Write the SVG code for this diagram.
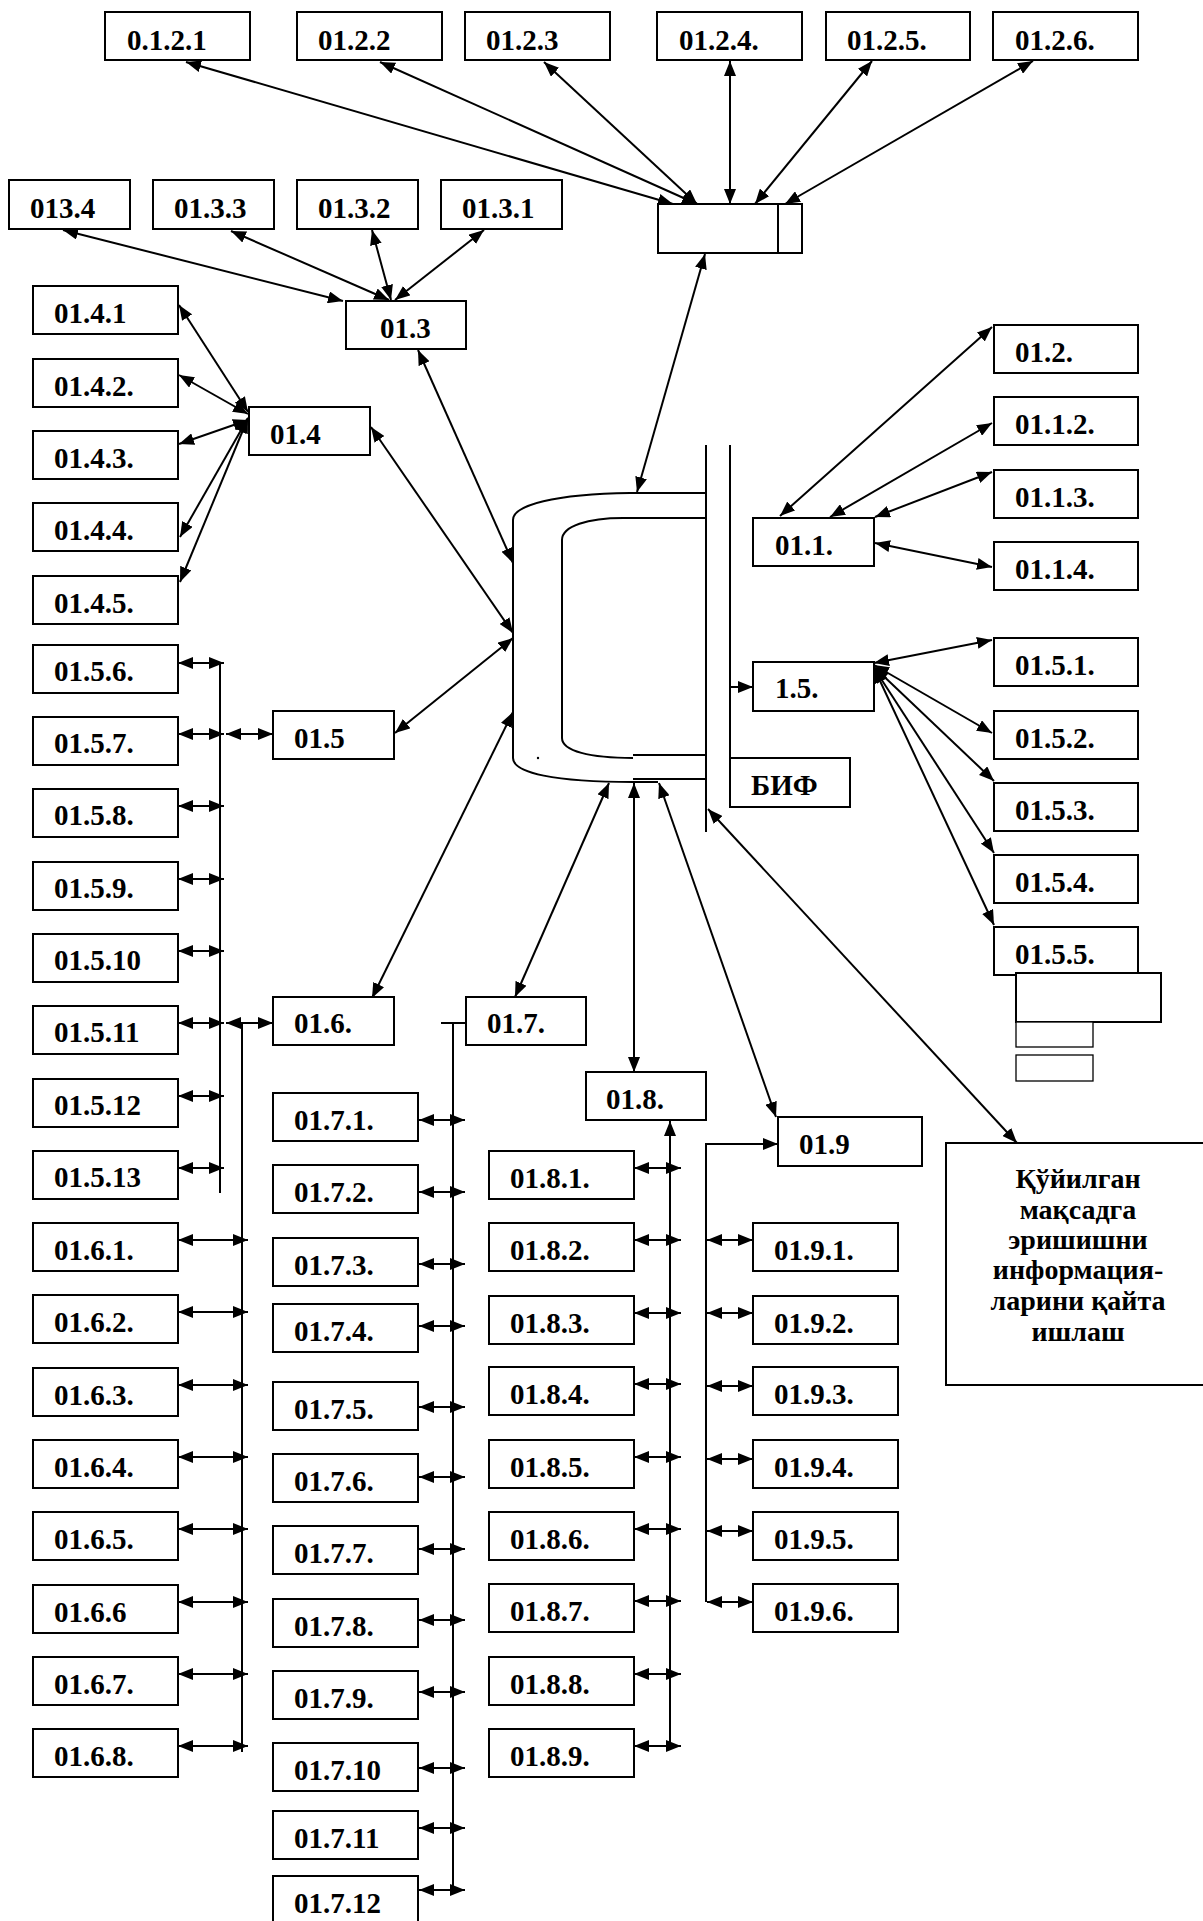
<svg xmlns="http://www.w3.org/2000/svg" width="1203" height="1921" viewBox="0 0 1203 1921">
<defs>
<marker id="ah" markerUnits="userSpaceOnUse" markerWidth="15" markerHeight="12" refX="15" refY="6" orient="auto-start-reverse"><path d="M0,0 L15,6 L0,12 z" fill="#000"/></marker>
<style>
.b{fill:#fff;stroke:#000;stroke-width:2}
.bt{fill:#fff;stroke:#000;stroke-width:1.3}
.t{font-family:"Liberation Serif","Times New Roman",serif;font-weight:bold;font-size:29px;fill:#000}
.q{font-family:"Liberation Serif","Times New Roman",serif;font-weight:bold;font-size:28px;fill:#000;text-anchor:middle}
.n{stroke:#000;stroke-width:2;fill:none}
.d{stroke:#000;stroke-width:2;fill:none;marker-start:url(#ah);marker-end:url(#ah)}
.s{stroke:#000;stroke-width:2;fill:none;marker-end:url(#ah)}
</style>
</defs>
<rect width="1203" height="1921" fill="#fff"/>

<g id="connectors">
<line class="d" x1="186" y1="62" x2="673" y2="204"/>
<line class="d" x1="380" y1="62" x2="697" y2="204"/>
<line class="d" x1="544" y1="62" x2="697" y2="204"/>
<line class="d" x1="730" y1="61" x2="730" y2="204"/>
<line class="d" x1="872" y1="61" x2="755" y2="204"/>
<line class="d" x1="1033" y1="61" x2="785" y2="204"/>
<line class="d" x1="705" y1="254" x2="637" y2="492"/>
<line class="d" x1="63" y1="230" x2="343" y2="301"/>
<line class="d" x1="231" y1="231" x2="389" y2="300"/>
<line class="d" x1="372" y1="230" x2="391" y2="300"/>
<line class="d" x1="484" y1="230" x2="395" y2="300"/>
<line class="d" x1="418" y1="350" x2="513" y2="563"/>
<line class="d" x1="179" y1="305" x2="248" y2="412"/>
<line class="d" x1="179" y1="375" x2="248" y2="414"/>
<line class="d" x1="179" y1="444" x2="248" y2="420"/>
<line class="d" x1="180" y1="537" x2="248" y2="418"/>
<line class="d" x1="180" y1="582" x2="248" y2="418"/>
<line class="d" x1="371" y1="427" x2="513" y2="633"/>
<line class="d" x1="395" y1="733" x2="513" y2="638"/>
<line class="d" x1="372" y1="998" x2="513" y2="712"/>
<line class="d" x1="515" y1="997" x2="609" y2="783"/>
<line class="d" x1="634" y1="783" x2="634" y2="1072"/>
<line class="d" x1="659" y1="783" x2="776" y2="1117"/>
<line class="d" x1="708" y1="809" x2="1017" y2="1143"/>
<line class="s" x1="730" y1="687" x2="753" y2="687"/>
<line class="d" x1="992" y1="327" x2="780" y2="516"/>
<line class="d" x1="992" y1="423" x2="830" y2="517"/>
<line class="d" x1="992" y1="472" x2="875" y2="517"/>
<line class="d" x1="875" y1="543" x2="992" y2="567"/>
<line class="d" x1="874" y1="663" x2="992" y2="640"/>
<line class="d" x1="874" y1="665" x2="992" y2="733"/>
<line class="d" x1="874" y1="667" x2="994" y2="781"/>
<line class="d" x1="874" y1="668" x2="994" y2="853"/>
<line class="d" x1="874" y1="668" x2="994" y2="925"/>
<line class="n" x1="220" y1="663" x2="220" y2="1193"/>
<line class="d" x1="178" y1="663" x2="224" y2="663"/>
<line class="d" x1="178" y1="734" x2="224" y2="734"/>
<line class="d" x1="178" y1="806" x2="224" y2="806"/>
<line class="d" x1="178" y1="879" x2="224" y2="879"/>
<line class="d" x1="178" y1="951" x2="224" y2="951"/>
<line class="d" x1="178" y1="1023" x2="224" y2="1023"/>
<line class="d" x1="178" y1="1096" x2="224" y2="1096"/>
<line class="d" x1="178" y1="1168" x2="224" y2="1168"/>
<line class="d" x1="226" y1="734" x2="273" y2="734"/>
<line class="n" x1="242" y1="1023" x2="242" y2="1752"/>
<line class="d" x1="226" y1="1023" x2="273" y2="1023"/>
<line class="d" x1="178" y1="1240" x2="248" y2="1240"/>
<line class="d" x1="178" y1="1312" x2="248" y2="1312"/>
<line class="d" x1="178" y1="1385" x2="248" y2="1385"/>
<line class="d" x1="178" y1="1457" x2="248" y2="1457"/>
<line class="d" x1="178" y1="1529" x2="248" y2="1529"/>
<line class="d" x1="178" y1="1602" x2="248" y2="1602"/>
<line class="d" x1="178" y1="1674" x2="248" y2="1674"/>
<line class="d" x1="178" y1="1746" x2="248" y2="1746"/>
<line class="n" x1="441" y1="1023" x2="466" y2="1023"/>
<line class="n" x1="453" y1="1023" x2="453" y2="1890"/>
<line class="d" x1="419" y1="1120" x2="465" y2="1120"/>
<line class="d" x1="419" y1="1192" x2="465" y2="1192"/>
<line class="d" x1="419" y1="1264" x2="465" y2="1264"/>
<line class="d" x1="419" y1="1326" x2="465" y2="1326"/>
<line class="d" x1="419" y1="1407" x2="465" y2="1407"/>
<line class="d" x1="419" y1="1477" x2="465" y2="1477"/>
<line class="d" x1="419" y1="1549" x2="465" y2="1549"/>
<line class="d" x1="419" y1="1620" x2="465" y2="1620"/>
<line class="d" x1="419" y1="1692" x2="465" y2="1692"/>
<line class="d" x1="419" y1="1768" x2="465" y2="1768"/>
<line class="d" x1="419" y1="1828" x2="465" y2="1828"/>
<line class="d" x1="419" y1="1890" x2="465" y2="1890"/>
<line class="s" x1="670" y1="1746" x2="670" y2="1121"/>
<line class="d" x1="634" y1="1168" x2="681" y2="1168"/>
<line class="d" x1="634" y1="1240" x2="681" y2="1240"/>
<line class="d" x1="634" y1="1313" x2="681" y2="1313"/>
<line class="d" x1="634" y1="1384" x2="681" y2="1384"/>
<line class="d" x1="634" y1="1457" x2="681" y2="1457"/>
<line class="d" x1="634" y1="1529" x2="681" y2="1529"/>
<line class="d" x1="634" y1="1601" x2="681" y2="1601"/>
<line class="d" x1="634" y1="1674" x2="681" y2="1674"/>
<line class="d" x1="634" y1="1746" x2="681" y2="1746"/>
<line class="n" x1="706" y1="1144" x2="706" y2="1602"/>
<line class="s" x1="705" y1="1144" x2="778" y2="1144"/>
<line class="d" x1="707" y1="1240" x2="753" y2="1240"/>
<line class="d" x1="707" y1="1313" x2="753" y2="1313"/>
<line class="d" x1="707" y1="1386" x2="753" y2="1386"/>
<line class="d" x1="707" y1="1459" x2="753" y2="1459"/>
<line class="d" x1="707" y1="1531" x2="753" y2="1531"/>
<line class="d" x1="707" y1="1602" x2="753" y2="1602"/>
</g>

<g id="center">
<path class="n" d="M706,493 L630,493 C555,494 513,505 513,520 L513,758 C513,773 555,782 633,782 L658,782"/>
<path class="n" d="M633,779 L706,779"/>
<path class="n" d="M706,518 L623,518 C588,518 562,526 562,540 L562,738 C562,751 590,758 633,758"/>
<path class="n" d="M633,755 L706,755"/>
<circle cx="538" cy="758" r="1.2" fill="#000"/>
<line class="n" x1="706" y1="445" x2="706" y2="832"/>
<line class="n" x1="730" y1="445" x2="730" y2="807"/>
</g>

<g id="hub"><rect class="b" x="658" y="204" width="144" height="49"/><line class="n" x1="778" y1="204" x2="778" y2="253"/></g>

<g id="n_0_1_2_1"><rect class="b" x="105" y="12" width="145" height="48"/><text class="t" x="127" y="50">0.1.2.1</text></g>
<g id="n_01_2_2"><rect class="b" x="297" y="12" width="145" height="48"/><text class="t" x="318" y="50">01.2.2</text></g>
<g id="n_01_2_3"><rect class="b" x="465" y="12" width="145" height="48"/><text class="t" x="486" y="50">01.2.3</text></g>
<g id="n_01_2_4"><rect class="b" x="657" y="12" width="145" height="48"/><text class="t" x="679" y="50">01.2.4.</text></g>
<g id="n_01_2_5"><rect class="b" x="826" y="12" width="144" height="48"/><text class="t" x="847" y="50">01.2.5.</text></g>
<g id="n_01_2_6"><rect class="b" x="993" y="12" width="145" height="48"/><text class="t" x="1015" y="50">01.2.6.</text></g>

<g id="n_013_4"><rect class="b" x="9" y="180" width="121" height="49"/><text class="t" x="30" y="218">013.4</text></g>
<g id="n_01_3_3"><rect class="b" x="153" y="180" width="121" height="49"/><text class="t" x="174" y="218">01.3.3</text></g>
<g id="n_01_3_2"><rect class="b" x="297" y="180" width="121" height="49"/><text class="t" x="318" y="218">01.3.2</text></g>
<g id="n_01_3_1"><rect class="b" x="441" y="180" width="121" height="49"/><text class="t" x="462" y="218">01.3.1</text></g>
<g id="n_01_3"><rect class="b" x="346" y="301" width="120" height="48"/><text class="t" x="380" y="338">01.3</text></g>

<g id="n_01_4_1"><rect class="b" x="33" y="286" width="145" height="48"/><text class="t" x="54" y="323">01.4.1</text></g>
<g id="n_01_4_2"><rect class="b" x="33" y="359" width="145" height="48"/><text class="t" x="54" y="396">01.4.2.</text></g>
<g id="n_01_4_3"><rect class="b" x="33" y="431" width="145" height="48"/><text class="t" x="54" y="468">01.4.3.</text></g>
<g id="n_01_4_4"><rect class="b" x="33" y="503" width="145" height="48"/><text class="t" x="54" y="540">01.4.4.</text></g>
<g id="n_01_4_5"><rect class="b" x="33" y="576" width="145" height="48"/><text class="t" x="54" y="613">01.4.5.</text></g>
<g id="n_01_4"><rect class="b" x="249" y="407" width="121" height="48"/><text class="t" x="270" y="444">01.4</text></g>

<g id="n_01_5_6"><rect class="b" x="33" y="645" width="145" height="48"/><text class="t" x="54" y="681">01.5.6.</text></g>
<g id="n_01_5_7"><rect class="b" x="33" y="717" width="145" height="48"/><text class="t" x="54" y="753">01.5.7.</text></g>
<g id="n_01_5_8"><rect class="b" x="33" y="789" width="145" height="48"/><text class="t" x="54" y="825">01.5.8.</text></g>
<g id="n_01_5_9"><rect class="b" x="33" y="862" width="145" height="48"/><text class="t" x="54" y="898">01.5.9.</text></g>
<g id="n_01_5_10"><rect class="b" x="33" y="934" width="145" height="48"/><text class="t" x="54" y="970">01.5.10</text></g>
<g id="n_01_5_11"><rect class="b" x="33" y="1006" width="145" height="48"/><text class="t" x="54" y="1042">01.5.11</text></g>
<g id="n_01_5_12"><rect class="b" x="33" y="1079" width="145" height="48"/><text class="t" x="54" y="1115">01.5.12</text></g>
<g id="n_01_5_13"><rect class="b" x="33" y="1151" width="145" height="48"/><text class="t" x="54" y="1187">01.5.13</text></g>
<g id="n_01_5"><rect class="b" x="273" y="711" width="121" height="48"/><text class="t" x="294" y="748">01.5</text></g>
<g id="n_01_6"><rect class="b" x="273" y="997" width="121" height="48"/><text class="t" x="294" y="1033">01.6.</text></g>

<g id="n_01_6_1"><rect class="b" x="33" y="1223" width="145" height="48"/><text class="t" x="54" y="1260">01.6.1.</text></g>
<g id="n_01_6_2"><rect class="b" x="33" y="1295" width="145" height="48"/><text class="t" x="54" y="1332">01.6.2.</text></g>
<g id="n_01_6_3"><rect class="b" x="33" y="1368" width="145" height="48"/><text class="t" x="54" y="1405">01.6.3.</text></g>
<g id="n_01_6_4"><rect class="b" x="33" y="1440" width="145" height="48"/><text class="t" x="54" y="1477">01.6.4.</text></g>
<g id="n_01_6_5"><rect class="b" x="33" y="1512" width="145" height="48"/><text class="t" x="54" y="1549">01.6.5.</text></g>
<g id="n_01_6_6"><rect class="b" x="33" y="1585" width="145" height="48"/><text class="t" x="54" y="1622">01.6.6</text></g>
<g id="n_01_6_7"><rect class="b" x="33" y="1657" width="145" height="48"/><text class="t" x="54" y="1694">01.6.7.</text></g>
<g id="n_01_6_8"><rect class="b" x="33" y="1729" width="145" height="48"/><text class="t" x="54" y="1766">01.6.8.</text></g>

<g id="n_01_7"><rect class="b" x="466" y="997" width="120" height="48"/><text class="t" x="487" y="1033">01.7.</text></g>
<g id="n_01_7_1"><rect class="b" x="273" y="1093" width="145" height="48"/><text class="t" x="294" y="1130">01.7.1.</text></g>
<g id="n_01_7_2"><rect class="b" x="273" y="1165" width="145" height="48"/><text class="t" x="294" y="1202">01.7.2.</text></g>
<g id="n_01_7_3"><rect class="b" x="273" y="1238" width="145" height="48"/><text class="t" x="294" y="1275">01.7.3.</text></g>
<g id="n_01_7_4"><rect class="b" x="273" y="1304" width="145" height="48"/><text class="t" x="294" y="1341">01.7.4.</text></g>
<g id="n_01_7_5"><rect class="b" x="273" y="1382" width="145" height="48"/><text class="t" x="294" y="1419">01.7.5.</text></g>
<g id="n_01_7_6"><rect class="b" x="273" y="1454" width="145" height="48"/><text class="t" x="294" y="1491">01.7.6.</text></g>
<g id="n_01_7_7"><rect class="b" x="273" y="1526" width="145" height="48"/><text class="t" x="294" y="1563">01.7.7.</text></g>
<g id="n_01_7_8"><rect class="b" x="273" y="1599" width="145" height="48"/><text class="t" x="294" y="1636">01.7.8.</text></g>
<g id="n_01_7_9"><rect class="b" x="273" y="1671" width="145" height="48"/><text class="t" x="294" y="1708">01.7.9.</text></g>
<g id="n_01_7_10"><rect class="b" x="273" y="1743" width="145" height="48"/><text class="t" x="294" y="1780">01.7.10</text></g>
<g id="n_01_7_11"><rect class="b" x="273" y="1811" width="145" height="48"/><text class="t" x="294" y="1848">01.7.11</text></g>
<g id="n_01_7_12"><rect class="b" x="273" y="1876" width="145" height="48"/><text class="t" x="294" y="1913">01.7.12</text></g>

<g id="n_01_8"><rect class="b" x="586" y="1072" width="120" height="48"/><text class="t" x="606" y="1109">01.8.</text></g>
<g id="n_01_8_1"><rect class="b" x="489" y="1151" width="145" height="48"/><text class="t" x="510" y="1188">01.8.1.</text></g>
<g id="n_01_8_2"><rect class="b" x="489" y="1223" width="145" height="48"/><text class="t" x="510" y="1260">01.8.2.</text></g>
<g id="n_01_8_3"><rect class="b" x="489" y="1296" width="145" height="48"/><text class="t" x="510" y="1333">01.8.3.</text></g>
<g id="n_01_8_4"><rect class="b" x="489" y="1367" width="145" height="48"/><text class="t" x="510" y="1404">01.8.4.</text></g>
<g id="n_01_8_5"><rect class="b" x="489" y="1440" width="145" height="48"/><text class="t" x="510" y="1477">01.8.5.</text></g>
<g id="n_01_8_6"><rect class="b" x="489" y="1512" width="145" height="48"/><text class="t" x="510" y="1549">01.8.6.</text></g>
<g id="n_01_8_7"><rect class="b" x="489" y="1584" width="145" height="48"/><text class="t" x="510" y="1621">01.8.7.</text></g>
<g id="n_01_8_8"><rect class="b" x="489" y="1657" width="145" height="48"/><text class="t" x="510" y="1694">01.8.8.</text></g>
<g id="n_01_8_9"><rect class="b" x="489" y="1729" width="145" height="48"/><text class="t" x="510" y="1766">01.8.9.</text></g>

<g id="n_01_9"><rect class="b" x="778" y="1117" width="144" height="49"/><text class="t" x="799" y="1154">01.9</text></g>
<g id="n_01_9_1"><rect class="b" x="753" y="1223" width="145" height="48"/><text class="t" x="774" y="1260">01.9.1.</text></g>
<g id="n_01_9_2"><rect class="b" x="753" y="1296" width="145" height="48"/><text class="t" x="774" y="1333">01.9.2.</text></g>
<g id="n_01_9_3"><rect class="b" x="753" y="1367" width="145" height="48"/><text class="t" x="774" y="1404">01.9.3.</text></g>
<g id="n_01_9_4"><rect class="b" x="753" y="1440" width="145" height="48"/><text class="t" x="774" y="1477">01.9.4.</text></g>
<g id="n_01_9_5"><rect class="b" x="753" y="1512" width="145" height="48"/><text class="t" x="774" y="1549">01.9.5.</text></g>
<g id="n_01_9_6"><rect class="b" x="753" y="1584" width="145" height="48"/><text class="t" x="774" y="1621">01.9.6.</text></g>

<g id="n_01_2"><rect class="b" x="994" y="325" width="144" height="48"/><text class="t" x="1015" y="362">01.2.</text></g>
<g id="n_01_1_2"><rect class="b" x="994" y="397" width="144" height="48"/><text class="t" x="1015" y="434">01.1.2.</text></g>
<g id="n_01_1_3"><rect class="b" x="994" y="470" width="144" height="48"/><text class="t" x="1015" y="507">01.1.3.</text></g>
<g id="n_01_1_4"><rect class="b" x="994" y="542" width="144" height="48"/><text class="t" x="1015" y="579">01.1.4.</text></g>
<g id="n_01_1"><rect class="b" x="753" y="518" width="121" height="48"/><text class="t" x="775" y="555">01.1.</text></g>
<g id="n_1_5"><rect class="b" x="753" y="662" width="121" height="49"/><text class="t" x="775" y="698">1.5.</text></g>
<g id="n_BIF"><rect class="b" x="730" y="758" width="120" height="49"/><text class="t" x="751" y="795">БИФ</text></g>
<g id="n_01_5_1"><rect class="b" x="994" y="638" width="144" height="48"/><text class="t" x="1015" y="675">01.5.1.</text></g>
<g id="n_01_5_2"><rect class="b" x="994" y="711" width="144" height="48"/><text class="t" x="1015" y="748">01.5.2.</text></g>
<g id="n_01_5_3"><rect class="b" x="994" y="783" width="144" height="48"/><text class="t" x="1015" y="820">01.5.3.</text></g>
<g id="n_01_5_4"><rect class="b" x="994" y="855" width="144" height="48"/><text class="t" x="1015" y="892">01.5.4.</text></g>
<g id="n_01_5_5"><rect class="b" x="994" y="927" width="144" height="48"/><text class="t" x="1015" y="964">01.5.5.</text></g>
<g id="blank1"><rect class="b" x="1016" y="973" width="145" height="49"/></g>
<g id="blank2"><rect class="bt" x="1016" y="1022" width="77" height="25"/></g>
<g id="blank3"><rect class="bt" x="1016" y="1055" width="77" height="26"/></g>

<g id="n_goal"><rect class="b" x="946" y="1143" width="262" height="242"/>
<text class="q" x="1078" y="1188">Қўйилган</text>
<text class="q" x="1078" y="1219">мақсадга</text>
<text class="q" x="1078" y="1249">эришишни</text>
<text class="q" x="1078" y="1279">информация-</text>
<text class="q" x="1078" y="1310">ларини қайта</text>
<text class="q" x="1078" y="1341">ишлаш</text>
</g>
</svg>
